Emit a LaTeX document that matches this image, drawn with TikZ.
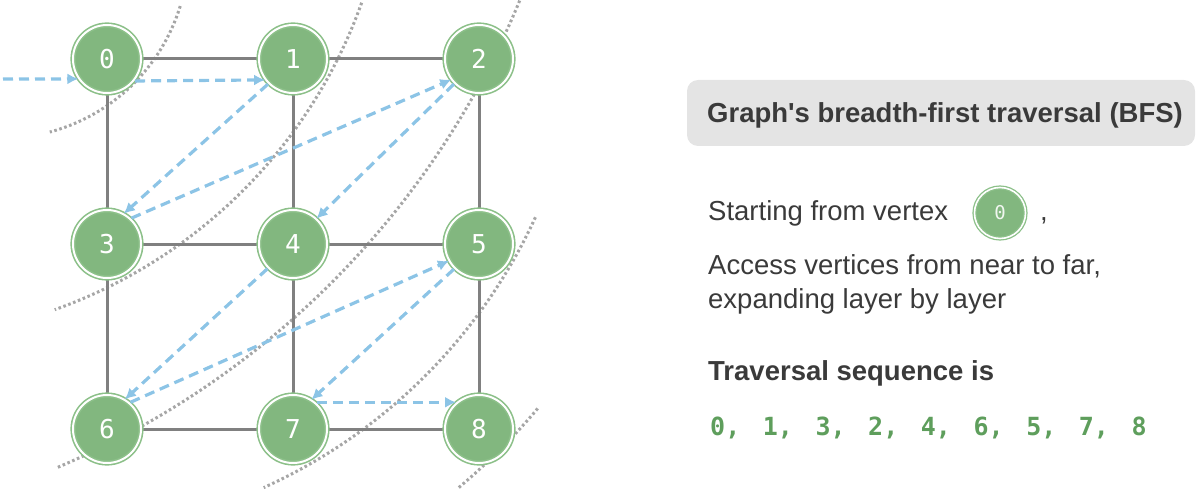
\documentclass[tikz,border=0pt]{standalone}
\usepackage{fontspec}
\setmainfont{Liberation Sans}[Ligatures=TeXOff]
\newfontfamily\vmono{DejaVu Sans Mono}
\newfontfamily\seqmono[WordSpace=1.5]{DejaVu Sans Mono}
\usetikzlibrary{arrows.meta}
\definecolor{vgreen}{HTML}{82B77F}
\definecolor{vring}{HTML}{8CC089}
\definecolor{edgegray}{HTML}{808080}
\definecolor{dotgray}{HTML}{A6A6A6}
\definecolor{arrblue}{HTML}{8CC4E6}
\definecolor{boxgray}{HTML}{E4E4E4}
\definecolor{txtgray}{HTML}{3A3A3A}
\definecolor{seqgreen}{HTML}{5E9E5C}
\newcommand\mytxtsize{\fontsize{27.5pt}{33pt}\selectfont}
\tikzset{
  vnode/.style={circle, fill=vgreen, draw=vring, line width=1.6pt, double=white, double distance=2pt,
    minimum size=68pt, inner sep=0pt, outer sep=2.5pt, text=white, font=\vmono\fontsize{26pt}{30pt}\selectfont},
  smallnode/.style={circle, fill=vgreen, draw=vring, line width=1.3pt, double=white, double distance=1.6pt,
    minimum size=51pt, inner sep=0pt, text=white!88!vgreen, font=\vmono\fontsize{19pt}{22pt}\selectfont},
  gedge/.style={draw=edgegray, line width=3pt},
  layerarc/.style={draw=dotgray, line width=3pt, dash pattern=on 2.6pt off 2.6pt},
  trav/.style={draw=arrblue, line width=3.2pt, dash pattern=on 10pt off 6pt,
    -{Latex[length=11pt,width=11pt]}, shorten >=-2pt, shorten <=-1pt},
  txt/.style={inner sep=0pt, anchor=base west, text=txtgray, font=\mytxtsize},
}
\begin{document}
\begin{tikzpicture}[x=1pt,y=-1pt]
\useasboundingbox (0,0) rectangle (1203,492);
% layer arcs
\draw[layerarc] (1.4,-48.6) ++(17:187) arc[start angle=17, end angle=75, radius=187];
\draw[layerarc] (-115,-167) ++(19.6:506) arc[start angle=19.6, end angle=70.4, radius=506];
\draw[layerarc] (-280,-329) ++(22.4:865) arc[start angle=22.4, end angle=67.1, radius=865];
\draw[layerarc] (39,-10) ++(24.6:546) arc[start angle=24.6, end angle=65.7, radius=546];
\draw[layerarc] (39,-10) ++(40:651) arc[start angle=40, end angle=50, radius=651];
% vertices
\path (107,59) coordinate (p0) (293,59) coordinate (p1) (479,59) coordinate (p2)
      (107,244) coordinate (p3) (293,244) coordinate (p4) (479,244) coordinate (p5)
      (107,429) coordinate (p6) (293,429) coordinate (p7) (479,429) coordinate (p8);
% edges (drawn first, nodes on top)
\draw[gedge] (p0) -- (p1) -- (p2) (p3) -- (p4) -- (p5) (p6) -- (p7) -- (p8)
             (p0) -- (p3) -- (p6) (p1) -- (p4) -- (p7) (p2) -- (p5) -- (p8);
\node[vnode] (n0) at (p0) {0};
\node[vnode] (n1) at (p1) {1};
\node[vnode] (n2) at (p2) {2};
\node[vnode] (n3) at (p3) {3};
\node[vnode] (n4) at (p4) {4};
\node[vnode] (n5) at (p5) {5};
\node[vnode] (n6) at (p6) {6};
\node[vnode] (n7) at (p7) {7};
\node[vnode] (n8) at (p8) {8};
% traversal arrows
\coordinate (entry) at (4,79);
\draw[trav] (entry) -- (n0.213);
\draw[trav] (n0.-37) -- (n1.215);
\draw[trav] (n1.225) -- (n3.60);
\draw[trav] (n3.46) -- (n2.216);
\draw[trav] (n2.225) -- (n4.47);
\draw[trav] (n4.224) -- (n6.58);
\draw[trav] (n6.48) -- (n5.209);
\draw[trav] (n5.225) -- (n7.57);
\draw[trav] (n7.47) -- (n8.133);
% right panel
\node[fill=boxgray, rounded corners=11pt, minimum width=508pt, minimum height=66pt, inner sep=0pt] (titlebox) at (941,113) {};
\node[txt, font=\mytxtsize\bfseries] (title) at (707,123) {Graph's breadth-first traversal (BFS)};
\node[txt] (start) at (708,221) {Starting from vertex};
\node[smallnode] (s0) at (1000,213) {0};
\node[txt] (comma) at (1040,221) {,};
\node[txt] (acc) at (708,274) {Access vertices from near to far,};
\node[txt] (exp) at (708,308) {expanding layer by layer};
\node[txt, font=\mytxtsize\bfseries] (seqlabel) at (708,380) {Traversal sequence is};
\node[inner sep=0pt, anchor=base west, text=seqgreen, font=\seqmono\bfseries\fontsize{25pt}{28pt}\selectfont] (seq) at (710,435) {0, 1, 3, 2, 4, 6, 5, 7, 8};
\end{tikzpicture}
\end{document}
